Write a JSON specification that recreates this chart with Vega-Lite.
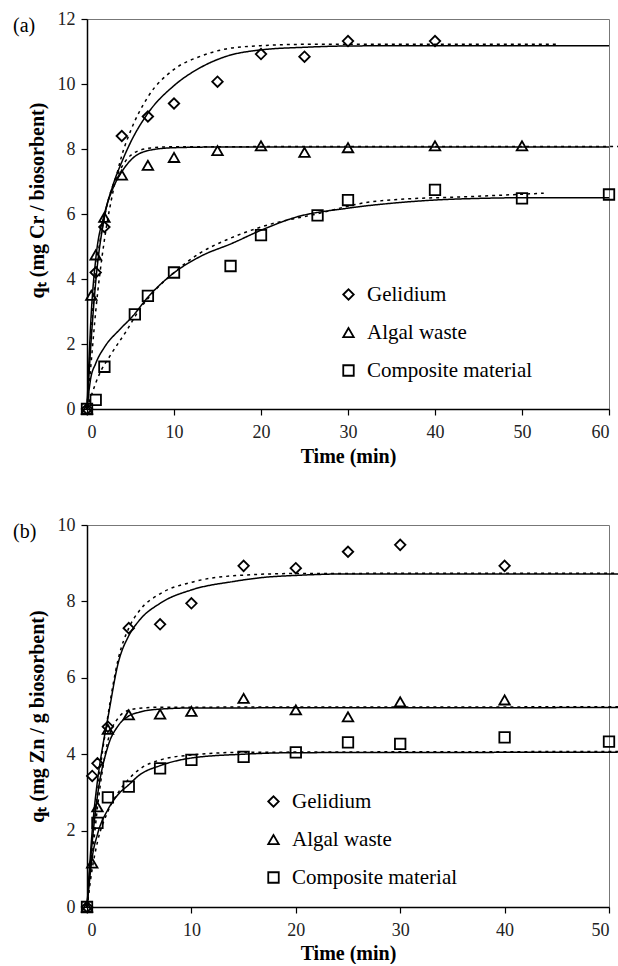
{
  "$schema": "https://vega.github.io/schema/vega-lite/v6.json",
  "background": "white",
  "padding": {"left": 12, "top": 9, "right": 5, "bottom": 0},
  "spacing": 48,
  "config": {
    "font": "Liberation Serif",
    "view": {"stroke": "#777", "strokeWidth": 1},
    "axis": {"labelFont": "Liberation Serif", "labelFontSize": 18, "labelColor": "#222", "titleFont": "Liberation Serif", "titleFontSize": 20, "titleFontWeight": "bold", "titleColor": "black", "domainColor": "black", "domainWidth": 1.5, "tickColor": "black", "tickSize": 6, "tickWidth": 1.2, "grid": false, "labelPadding": 6},
    "axisX": {"labelPadding": 8, "titleFontSize": 20},
    "legend": {"labelFont": "Liberation Serif", "labelFontSize": 21, "labelColor": "black", "labelLimit": 400, "symbolStrokeColor": "black", "symbolStrokeWidth": 1.8, "symbolSize": 110, "rowPadding": 16, "labelOffset": 8, "title": null},
    "title": {"font": "Liberation Serif", "fontSize": 20, "fontWeight": "normal", "anchor": "start", "frame": "bounds", "color": "black"}
  },
  "resolve": {"scale": {"shape": "independent", "strokeDash": "independent"}, "legend": {"shape": "independent"}},
  "datasets": {
    "ptsA": [
      {"series": "Gelidium", "t": 0, "q": 0}, {"series": "Gelidium", "t": 1, "q": 4.2}, {"series": "Gelidium", "t": 2, "q": 5.6}, {"series": "Gelidium", "t": 4, "q": 8.4}, {"series": "Gelidium", "t": 7, "q": 9.0}, {"series": "Gelidium", "t": 10, "q": 9.4}, {"series": "Gelidium", "t": 15, "q": 10.07}, {"series": "Gelidium", "t": 20, "q": 10.92}, {"series": "Gelidium", "t": 25, "q": 10.84}, {"series": "Gelidium", "t": 30, "q": 11.32}, {"series": "Gelidium", "t": 40, "q": 11.32},
      {"series": "Algal waste", "t": 0, "q": 0}, {"series": "Algal waste", "t": 0.5, "q": 3.5}, {"series": "Algal waste", "t": 1, "q": 4.74}, {"series": "Algal waste", "t": 2, "q": 5.9}, {"series": "Algal waste", "t": 4, "q": 7.2}, {"series": "Algal waste", "t": 7, "q": 7.5}, {"series": "Algal waste", "t": 10, "q": 7.74}, {"series": "Algal waste", "t": 15, "q": 7.95}, {"series": "Algal waste", "t": 20, "q": 8.1}, {"series": "Algal waste", "t": 25, "q": 7.9}, {"series": "Algal waste", "t": 30, "q": 8.04}, {"series": "Algal waste", "t": 40, "q": 8.1}, {"series": "Algal waste", "t": 50, "q": 8.1},
      {"series": "Composite material", "t": 0, "q": 0}, {"series": "Composite material", "t": 1, "q": 0.28}, {"series": "Composite material", "t": 2, "q": 1.3}, {"series": "Composite material", "t": 5.5, "q": 2.91}, {"series": "Composite material", "t": 7, "q": 3.48}, {"series": "Composite material", "t": 10, "q": 4.2}, {"series": "Composite material", "t": 16.5, "q": 4.4}, {"series": "Composite material", "t": 20, "q": 5.35}, {"series": "Composite material", "t": 26.5, "q": 5.96}, {"series": "Composite material", "t": 30, "q": 6.43}, {"series": "Composite material", "t": 40, "q": 6.74}, {"series": "Composite material", "t": 50, "q": 6.48}, {"series": "Composite material", "t": 60, "q": 6.6}
    ],
    "fitA": [
      {"series": "Gelidium", "model": "solid", "t": 0, "q": 0}, {"series": "Gelidium", "model": "solid", "t": 0.5, "q": 2.2}, {"series": "Gelidium", "model": "solid", "t": 1, "q": 3.9}, {"series": "Gelidium", "model": "solid", "t": 2, "q": 5.9}, {"series": "Gelidium", "model": "solid", "t": 3, "q": 6.9}, {"series": "Gelidium", "model": "solid", "t": 4, "q": 7.6}, {"series": "Gelidium", "model": "solid", "t": 5, "q": 8.2}, {"series": "Gelidium", "model": "solid", "t": 7, "q": 9.1}, {"series": "Gelidium", "model": "solid", "t": 10, "q": 9.95}, {"series": "Gelidium", "model": "solid", "t": 13, "q": 10.5}, {"series": "Gelidium", "model": "solid", "t": 16, "q": 10.85}, {"series": "Gelidium", "model": "solid", "t": 20, "q": 11.05}, {"series": "Gelidium", "model": "solid", "t": 25, "q": 11.13}, {"series": "Gelidium", "model": "solid", "t": 30, "q": 11.17}, {"series": "Gelidium", "model": "solid", "t": 40, "q": 11.18}, {"series": "Gelidium", "model": "solid", "t": 60, "q": 11.18},
      {"series": "Gelidium", "model": "dotted", "t": 0, "q": 0}, {"series": "Gelidium", "model": "dotted", "t": 0.5, "q": 1.5}, {"series": "Gelidium", "model": "dotted", "t": 1, "q": 3.0}, {"series": "Gelidium", "model": "dotted", "t": 2, "q": 5.2}, {"series": "Gelidium", "model": "dotted", "t": 3, "q": 6.7}, {"series": "Gelidium", "model": "dotted", "t": 4, "q": 7.8}, {"series": "Gelidium", "model": "dotted", "t": 5, "q": 8.55}, {"series": "Gelidium", "model": "dotted", "t": 7, "q": 9.6}, {"series": "Gelidium", "model": "dotted", "t": 10, "q": 10.45}, {"series": "Gelidium", "model": "dotted", "t": 13, "q": 10.85}, {"series": "Gelidium", "model": "dotted", "t": 16, "q": 11.08}, {"series": "Gelidium", "model": "dotted", "t": 20, "q": 11.18}, {"series": "Gelidium", "model": "dotted", "t": 25, "q": 11.22}, {"series": "Gelidium", "model": "dotted", "t": 40, "q": 11.22}, {"series": "Gelidium", "model": "dotted", "t": 54, "q": 11.22},
      {"series": "Algal waste", "model": "solid", "t": 0, "q": 0}, {"series": "Algal waste", "model": "solid", "t": 0.5, "q": 3.0}, {"series": "Algal waste", "model": "solid", "t": 1, "q": 4.6}, {"series": "Algal waste", "model": "solid", "t": 2, "q": 6.0}, {"series": "Algal waste", "model": "solid", "t": 3, "q": 6.8}, {"series": "Algal waste", "model": "solid", "t": 4, "q": 7.3}, {"series": "Algal waste", "model": "solid", "t": 5, "q": 7.65}, {"series": "Algal waste", "model": "solid", "t": 7, "q": 7.95}, {"series": "Algal waste", "model": "solid", "t": 10, "q": 8.04}, {"series": "Algal waste", "model": "solid", "t": 15, "q": 8.06}, {"series": "Algal waste", "model": "solid", "t": 60, "q": 8.06},
      {"series": "Algal waste", "model": "dotted", "t": 0, "q": 0}, {"series": "Algal waste", "model": "dotted", "t": 0.5, "q": 2.4}, {"series": "Algal waste", "model": "dotted", "t": 1, "q": 4.1}, {"series": "Algal waste", "model": "dotted", "t": 2, "q": 5.9}, {"series": "Algal waste", "model": "dotted", "t": 3, "q": 6.9}, {"series": "Algal waste", "model": "dotted", "t": 4, "q": 7.45}, {"series": "Algal waste", "model": "dotted", "t": 5, "q": 7.8}, {"series": "Algal waste", "model": "dotted", "t": 7, "q": 8.02}, {"series": "Algal waste", "model": "dotted", "t": 10, "q": 8.07}, {"series": "Algal waste", "model": "dotted", "t": 61.5, "q": 8.08},
      {"series": "Composite material", "model": "solid", "t": 0, "q": 0}, {"series": "Composite material", "model": "solid", "t": 0.4, "q": 0.9}, {"series": "Composite material", "model": "solid", "t": 1, "q": 1.4}, {"series": "Composite material", "model": "solid", "t": 2, "q": 1.9}, {"series": "Composite material", "model": "solid", "t": 3.7, "q": 2.43}, {"series": "Composite material", "model": "solid", "t": 5.2, "q": 2.84}, {"series": "Composite material", "model": "solid", "t": 7, "q": 3.44}, {"series": "Composite material", "model": "solid", "t": 10, "q": 4.19}, {"series": "Composite material", "model": "solid", "t": 13, "q": 4.69}, {"series": "Composite material", "model": "solid", "t": 16.7, "q": 5.1}, {"series": "Composite material", "model": "solid", "t": 20, "q": 5.5}, {"series": "Composite material", "model": "solid", "t": 24, "q": 5.9}, {"series": "Composite material", "model": "solid", "t": 30, "q": 6.18}, {"series": "Composite material", "model": "solid", "t": 35, "q": 6.33}, {"series": "Composite material", "model": "solid", "t": 40, "q": 6.43}, {"series": "Composite material", "model": "solid", "t": 45, "q": 6.48}, {"series": "Composite material", "model": "solid", "t": 50, "q": 6.5}, {"series": "Composite material", "model": "solid", "t": 60, "q": 6.5},
      {"series": "Composite material", "model": "dotted", "t": 0, "q": 0}, {"series": "Composite material", "model": "dotted", "t": 1.3, "q": 1.0}, {"series": "Composite material", "model": "dotted", "t": 2.8, "q": 1.7}, {"series": "Composite material", "model": "dotted", "t": 4.6, "q": 2.43}, {"series": "Composite material", "model": "dotted", "t": 6, "q": 3.05}, {"series": "Composite material", "model": "dotted", "t": 8, "q": 3.7}, {"series": "Composite material", "model": "dotted", "t": 10, "q": 4.2}, {"series": "Composite material", "model": "dotted", "t": 13, "q": 4.8}, {"series": "Composite material", "model": "dotted", "t": 16, "q": 5.2}, {"series": "Composite material", "model": "dotted", "t": 20, "q": 5.6}, {"series": "Composite material", "model": "dotted", "t": 26.7, "q": 6.02}, {"series": "Composite material", "model": "dotted", "t": 32, "q": 6.35}, {"series": "Composite material", "model": "dotted", "t": 36, "q": 6.45}, {"series": "Composite material", "model": "dotted", "t": 43.5, "q": 6.53}, {"series": "Composite material", "model": "dotted", "t": 52.5, "q": 6.64}
    ],
    "ptsB": [
      {"series": "Gelidium", "t": 0, "q": 0}, {"series": "Gelidium", "t": 0.5, "q": 3.43}, {"series": "Gelidium", "t": 1, "q": 3.76}, {"series": "Gelidium", "t": 2, "q": 4.72}, {"series": "Gelidium", "t": 4, "q": 7.3}, {"series": "Gelidium", "t": 7, "q": 7.4}, {"series": "Gelidium", "t": 10, "q": 7.95}, {"series": "Gelidium", "t": 15, "q": 8.93}, {"series": "Gelidium", "t": 20, "q": 8.87}, {"series": "Gelidium", "t": 25, "q": 9.3}, {"series": "Gelidium", "t": 30, "q": 9.48}, {"series": "Gelidium", "t": 40, "q": 8.93},
      {"series": "Algal waste", "t": 0, "q": 0}, {"series": "Algal waste", "t": 0.5, "q": 1.15}, {"series": "Algal waste", "t": 1, "q": 2.62}, {"series": "Algal waste", "t": 2, "q": 4.65}, {"series": "Algal waste", "t": 4, "q": 5.03}, {"series": "Algal waste", "t": 7, "q": 5.05}, {"series": "Algal waste", "t": 10, "q": 5.12}, {"series": "Algal waste", "t": 15, "q": 5.46}, {"series": "Algal waste", "t": 20, "q": 5.16}, {"series": "Algal waste", "t": 25, "q": 4.98}, {"series": "Algal waste", "t": 30, "q": 5.37}, {"series": "Algal waste", "t": 40, "q": 5.42},
      {"series": "Composite material", "t": 0, "q": 0}, {"series": "Composite material", "t": 1, "q": 2.2}, {"series": "Composite material", "t": 2, "q": 2.87}, {"series": "Composite material", "t": 4, "q": 3.15}, {"series": "Composite material", "t": 7, "q": 3.63}, {"series": "Composite material", "t": 10, "q": 3.85}, {"series": "Composite material", "t": 15, "q": 3.93}, {"series": "Composite material", "t": 20, "q": 4.05}, {"series": "Composite material", "t": 25, "q": 4.31}, {"series": "Composite material", "t": 30, "q": 4.27}, {"series": "Composite material", "t": 40, "q": 4.44}, {"series": "Composite material", "t": 50, "q": 4.33}
    ],
    "fitB": [
      {"series": "Gelidium", "model": "solid", "t": 0, "q": 0}, {"series": "Gelidium", "model": "solid", "t": 0.5, "q": 2.0}, {"series": "Gelidium", "model": "solid", "t": 1, "q": 3.3}, {"series": "Gelidium", "model": "solid", "t": 1.5, "q": 4.2}, {"series": "Gelidium", "model": "solid", "t": 2, "q": 4.95}, {"series": "Gelidium", "model": "solid", "t": 3, "q": 6.4}, {"series": "Gelidium", "model": "solid", "t": 4, "q": 7.1}, {"series": "Gelidium", "model": "solid", "t": 5, "q": 7.5}, {"series": "Gelidium", "model": "solid", "t": 7, "q": 7.95}, {"series": "Gelidium", "model": "solid", "t": 10, "q": 8.3}, {"series": "Gelidium", "model": "solid", "t": 14, "q": 8.52}, {"series": "Gelidium", "model": "solid", "t": 17, "q": 8.63}, {"series": "Gelidium", "model": "solid", "t": 20, "q": 8.68}, {"series": "Gelidium", "model": "solid", "t": 25, "q": 8.72}, {"series": "Gelidium", "model": "solid", "t": 51, "q": 8.72},
      {"series": "Gelidium", "model": "dotted", "t": 0, "q": 0}, {"series": "Gelidium", "model": "dotted", "t": 0.5, "q": 1.6}, {"series": "Gelidium", "model": "dotted", "t": 1, "q": 3.0}, {"series": "Gelidium", "model": "dotted", "t": 2, "q": 5.0}, {"series": "Gelidium", "model": "dotted", "t": 3, "q": 6.5}, {"series": "Gelidium", "model": "dotted", "t": 4, "q": 7.3}, {"series": "Gelidium", "model": "dotted", "t": 5, "q": 7.75}, {"series": "Gelidium", "model": "dotted", "t": 7, "q": 8.2}, {"series": "Gelidium", "model": "dotted", "t": 10, "q": 8.5}, {"series": "Gelidium", "model": "dotted", "t": 14, "q": 8.67}, {"series": "Gelidium", "model": "dotted", "t": 20, "q": 8.73}, {"series": "Gelidium", "model": "dotted", "t": 51, "q": 8.74},
      {"series": "Algal waste", "model": "solid", "t": 0, "q": 0}, {"series": "Algal waste", "model": "solid", "t": 0.5, "q": 1.7}, {"series": "Algal waste", "model": "solid", "t": 1, "q": 2.9}, {"series": "Algal waste", "model": "solid", "t": 2, "q": 4.2}, {"series": "Algal waste", "model": "solid", "t": 3, "q": 4.75}, {"series": "Algal waste", "model": "solid", "t": 4, "q": 5.0}, {"series": "Algal waste", "model": "solid", "t": 5, "q": 5.1}, {"series": "Algal waste", "model": "solid", "t": 7, "q": 5.18}, {"series": "Algal waste", "model": "solid", "t": 10, "q": 5.21}, {"series": "Algal waste", "model": "solid", "t": 51, "q": 5.22},
      {"series": "Algal waste", "model": "dotted", "t": 0, "q": 0}, {"series": "Algal waste", "model": "dotted", "t": 0.5, "q": 1.3}, {"series": "Algal waste", "model": "dotted", "t": 1, "q": 2.6}, {"series": "Algal waste", "model": "dotted", "t": 2, "q": 4.35}, {"series": "Algal waste", "model": "dotted", "t": 3, "q": 4.95}, {"series": "Algal waste", "model": "dotted", "t": 4, "q": 5.15}, {"series": "Algal waste", "model": "dotted", "t": 5, "q": 5.2}, {"series": "Algal waste", "model": "dotted", "t": 7, "q": 5.23}, {"series": "Algal waste", "model": "dotted", "t": 51, "q": 5.24},
      {"series": "Composite material", "model": "solid", "t": 0, "q": 0}, {"series": "Composite material", "model": "solid", "t": 0.5, "q": 1.3}, {"series": "Composite material", "model": "solid", "t": 1, "q": 1.9}, {"series": "Composite material", "model": "solid", "t": 2, "q": 2.55}, {"series": "Composite material", "model": "solid", "t": 3, "q": 2.95}, {"series": "Composite material", "model": "solid", "t": 4, "q": 3.2}, {"series": "Composite material", "model": "solid", "t": 5, "q": 3.45}, {"series": "Composite material", "model": "solid", "t": 7, "q": 3.7}, {"series": "Composite material", "model": "solid", "t": 10, "q": 3.9}, {"series": "Composite material", "model": "solid", "t": 15, "q": 4.0}, {"series": "Composite material", "model": "solid", "t": 20, "q": 4.04}, {"series": "Composite material", "model": "solid", "t": 51, "q": 4.05},
      {"series": "Composite material", "model": "dotted", "t": 0, "q": 0}, {"series": "Composite material", "model": "dotted", "t": 0.5, "q": 1.0}, {"series": "Composite material", "model": "dotted", "t": 1, "q": 1.7}, {"series": "Composite material", "model": "dotted", "t": 2, "q": 2.5}, {"series": "Composite material", "model": "dotted", "t": 3, "q": 3.0}, {"series": "Composite material", "model": "dotted", "t": 4, "q": 3.35}, {"series": "Composite material", "model": "dotted", "t": 5, "q": 3.6}, {"series": "Composite material", "model": "dotted", "t": 7, "q": 3.85}, {"series": "Composite material", "model": "dotted", "t": 10, "q": 3.98}, {"series": "Composite material", "model": "dotted", "t": 15, "q": 4.05}, {"series": "Composite material", "model": "dotted", "t": 51, "q": 4.07}
    ]
  },
  "vconcat": [
    {
      "width": 522,
      "height": 390,
      "title": {"text": "(a)", "dx": -14, "dy": 30},
      "layer": [
        {
          "data": {"name": "fitA"},
          "mark": {"type": "line", "color": "black", "strokeWidth": 1.5, "interpolate": "monotone"},
          "encoding": {
            "x": {"field": "t", "type": "quantitative", "scale": {"domain": [0, 60], "nice": false}, "axis": {"values": [0, 10, 20, 30, 40, 50, 60], "title": "Time (min)", "titlePadding": 5}},
            "y": {"field": "q", "type": "quantitative", "scale": {"domain": [0, 12], "nice": false}, "axis": {"values": [0, 2, 4, 6, 8, 10, 12], "title": "qₜ (mg Cr / biosorbent)", "titlePadding": 10, "titleY": 181}},
            "detail": [{"field": "series"}, {"field": "model"}],
            "strokeDash": {"field": "model", "type": "nominal", "scale": {"domain": ["solid", "dotted"], "range": [[1, 0], [3, 4]]}, "legend": null}
          }
        },
        {
          "data": {"name": "ptsA"},
          "mark": {"type": "point", "filled": false, "color": "black", "size": 110, "strokeWidth": 1.8, "opacity": 1},
          "encoding": {
            "x": {"field": "t", "type": "quantitative"},
            "y": {"field": "q", "type": "quantitative"},
            "shape": {"field": "series", "type": "nominal", "scale": {"domain": ["Gelidium", "Algal waste", "Composite material"], "range": ["diamond", "triangle-up", "square"]}, "legend": {"orient": "none", "legendX": 251, "legendY": 265, "title": null}}
          }
        }
      ]
    },
    {
      "width": 522,
      "height": 382,
      "title": {"text": "(b)", "dx": -14, "dy": 30},
      "layer": [
        {
          "data": {"name": "fitB"},
          "mark": {"type": "line", "color": "black", "strokeWidth": 1.5, "interpolate": "monotone"},
          "encoding": {
            "x": {"field": "t", "type": "quantitative", "scale": {"domain": [0, 50], "nice": false}, "axis": {"values": [0, 10, 20, 30, 40, 50], "title": "Time (min)", "titlePadding": 4}},
            "y": {"field": "q", "type": "quantitative", "scale": {"domain": [0, 10], "nice": false}, "axis": {"values": [0, 2, 4, 6, 8, 10], "title": "qₜ (mg Zn / g biosorbent)", "titlePadding": 10}},
            "detail": [{"field": "series"}, {"field": "model"}],
            "strokeDash": {"field": "model", "type": "nominal", "scale": {"domain": ["solid", "dotted"], "range": [[1, 0], [3, 4]]}, "legend": null}
          }
        },
        {
          "data": {"name": "ptsB"},
          "mark": {"type": "point", "filled": false, "color": "black", "size": 110, "strokeWidth": 1.8, "opacity": 1},
          "encoding": {
            "x": {"field": "t", "type": "quantitative"},
            "y": {"field": "q", "type": "quantitative"},
            "shape": {"field": "series", "type": "nominal", "scale": {"domain": ["Gelidium", "Algal waste", "Composite material"], "range": ["diamond", "triangle-up", "square"]}, "legend": {"orient": "none", "legendX": 176, "legendY": 266, "title": null}}
          }
        }
      ]
    }
  ]
}
